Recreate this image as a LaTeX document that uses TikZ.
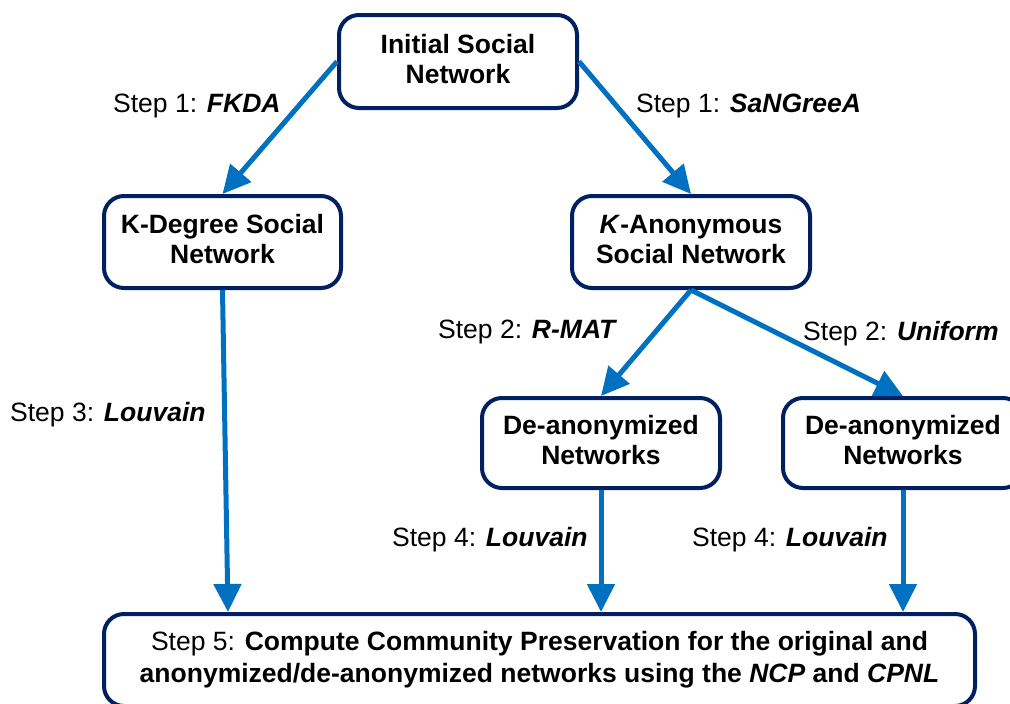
\documentclass[tikz,border=0pt]{standalone}
\usepackage{fontspec}
\setmainfont{Liberation Sans}
\usetikzlibrary{arrows.meta}
\definecolor{boxline}{RGB}{0,32,96}
\definecolor{flow}{RGB}{0,112,192}
\newcommand{\drawflow}{\draw[flowline]}
\newcommand{\labelfont}{\fontsize{26.5}{30}\selectfont}
\tikzset{
  stage/.style={draw=boxline, line width=4pt, rounded corners=20pt, fill=white,
    align=center, inner sep=0pt, text depth=6pt, font=\labelfont\bfseries},
  flowline/.style={draw=flow, line width=5pt, -{Triangle[length=28pt,width=27pt]}},
  steplabel/.style={anchor=base west, inner sep=0pt, font=\labelfont}
}

\begin{document}
\begin{tikzpicture}[x=1pt,y=-1pt]
\useasboundingbox (0,0) rectangle (1010,704);
\node[stage,minimum width=238pt,minimum height=93pt] (init) at (458,61.5) {Initial Social\\Network};
\node[stage,minimum width=237pt,minimum height=92pt] (kdeg) at (222.5,242) {K-Degree Social\\Network};
\node[stage,minimum width=238pt,minimum height=92pt] (kanon) at (691,242) {\textit{K}-Anonymous\\Social Network};
\node[stage,minimum width=238pt,minimum height=90pt] (dean1) at (601,443) {De-anonymized\\Networks};
\node[stage,minimum width=240pt,minimum height=90pt] (dean2) at (903,443) {De-anonymized\\Networks};
\node[stage,minimum width=871pt,minimum height=92pt,font=\fontsize{26.5}{32}\selectfont] (final) at (539.5,660)
  {Step 5: \textbf{Compute Community Preservation for the original and}\\
   \textbf{anonymized/de-anonymized networks using the \textit{NCP} and \textit{CPNL}}};
\drawflow (init.west) -- (kdeg.north);
\drawflow (init.east) -- (kanon.north);
\drawflow (kdeg.south) -- ([xshift=126pt]final.north west);
\drawflow (kanon.south) -- (dean1.north);
\drawflow (kanon.south) -- (dean2.north);
\drawflow (dean1.south) -- (dean1.south |- final.north);
\drawflow (dean2.south) -- (dean2.south |- final.north);
\node[steplabel] (s1a) at (113,112.5) {Step 1: \textbf{\textit{FKDA}}};
\node[steplabel] (s1b) at (636,112.5) {Step 1: \textbf{\textit{SaNGreeA}}};
\node[steplabel] (s2a) at (438,338.5) {Step 2: \textbf{\textit{R-MAT}}};
\node[steplabel] (s2b) at (803,340.5) {Step 2: \textbf{\textit{Uniform}}};
\node[steplabel] (s3) at (10,421.5) {Step 3: \textbf{\textit{Louvain}}};
\node[steplabel] (s4a) at (392,546.5) {Step 4: \textbf{\textit{Louvain}}};
\node[steplabel] (s4b) at (692,546.5) {Step 4: \textbf{\textit{Louvain}}};
\end{tikzpicture}
\end{document}
